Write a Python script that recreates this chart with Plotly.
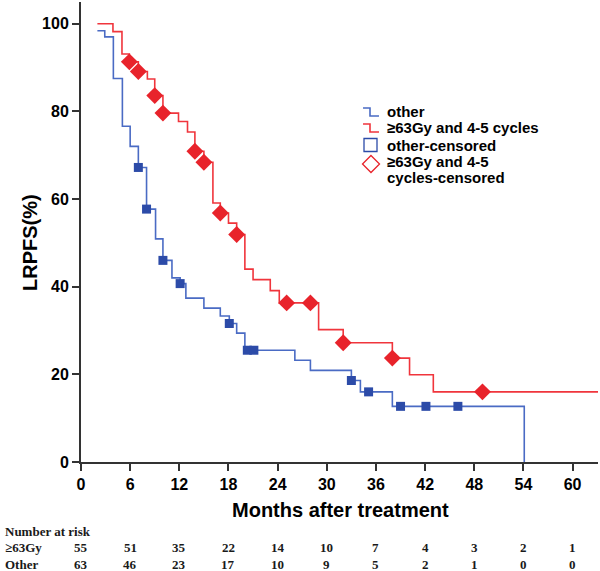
import plotly.graph_objects as go

# ---------------- data ----------------
red_name = "≥63Gy and 4-5 cycles"
blue_name = "other"

red_t = [2.0, 3.9, 5.0, 5.9, 7.0, 8.1, 9.0, 10.0, 11.9, 13.0, 13.9, 15.0, 16.1, 17.0,
         18.0, 19.0, 20.0, 21.0, 23.1, 24.2, 29.0, 32.0, 38.0, 40.1, 43.0, 63.1]
red_s = [100, 98.2, 93.1, 91.3, 89.1, 87.4, 83.6, 79.6, 77.7, 75.3, 70.9, 68.4, 59.1, 56.8,
         54.5, 51.9, 44.0, 41.6, 39.1, 36.3, 30.2, 27.2, 23.7, 19.9, 16.0, 16.0]
red_cens_t = [5.9, 7.0, 9.0, 10.0, 13.9, 15.0, 17.0, 19.0, 25.1, 28.0, 32.0, 38.0, 49.0]
red_cens_s = [91.3, 89.1, 83.6, 79.6, 70.9, 68.4, 56.8, 51.9, 36.3, 36.3, 27.2, 23.7, 16.0]

blue_t = [2.0, 2.9, 3.95, 5.05, 6.0, 7.0, 8.0, 9.1, 10.0, 11.1, 12.1, 12.8, 15.0, 17.0,
          18.1, 19.0, 20.0, 26.1, 28.0, 33.0, 34.1, 38.0, 54.1]
blue_s = [98.4, 97.0, 87.5, 76.6, 72.0, 67.2, 57.7, 50.9, 46.0, 42.0, 40.7, 37.4, 35.1, 33.3,
          31.6, 29.4, 25.5, 23.2, 20.9, 18.6, 16.0, 12.7, 0]
blue_cens_t = [7.0, 8.0, 10.0, 12.1, 18.1, 20.3, 21.1, 33.0, 35.1, 39.0, 42.1, 46.0]
blue_cens_s = [67.2, 57.7, 46.0, 40.7, 31.6, 25.5, 25.5, 18.6, 16.0, 12.7, 12.7, 12.7]

x_ticks = [0, 6, 12, 18, 24, 30, 36, 42, 48, 54, 60]
y_ticks = [0, 20, 40, 60, 80, 100]

risk_times = [0, 6, 12, 18, 24, 30, 36, 42, 48, 54, 60]
risk_hi = [55, 51, 35, 22, 14, 10, 7, 4, 3, 2, 1]
risk_other = [63, 46, 23, 17, 10, 9, 5, 2, 1, 0, 0]
risk_labels = ["≥63Gy", "Other"]

# ---------------- styling ----------------
RED_LINE = "#F0353C"
RED_MARK = "#E8232B"
BLUE_LINE = "#4A6BC4"
BLUE_MARK = "#2C4BA8"
AXIS = "#333333"

W, H = 600, 571
ML, MR, MT, MB = 81, 2, 2, 109
PW, PH = W - ML - MR, H - MT - MB


def px(xp):
    return (xp - ML) / PW


def py(yp):
    return (MT + PH - yp) / PH


fig = go.Figure()
fig.add_trace(go.Scatter(x=blue_t, y=blue_s, mode="lines", line=dict(color=BLUE_LINE, width=1.6, shape="hv"),
                         showlegend=False, hoverinfo="skip"))
fig.add_trace(go.Scatter(x=red_t, y=red_s, mode="lines", line=dict(color=RED_LINE, width=1.6, shape="hv"),
                         showlegend=False, hoverinfo="skip"))
fig.add_trace(go.Scatter(x=blue_cens_t, y=blue_cens_s, mode="markers",
                         marker=dict(symbol="square", size=9, color=BLUE_MARK, line=dict(width=0)),
                         showlegend=False, hoverinfo="skip"))
fig.add_trace(go.Scatter(x=red_cens_t, y=red_cens_s, mode="markers",
                         marker=dict(symbol="diamond", size=13, color=RED_MARK, line=dict(width=0)),
                         showlegend=False, hoverinfo="skip"))

tickfont = dict(family="Liberation Sans, Arial", size=16, color="black", weight="bold")
fig.update_xaxes(range=[0, 63.1], tickvals=x_ticks, showline=True, linecolor=AXIS, linewidth=2,
                 ticks="outside", ticklen=7, tickwidth=2, tickcolor=AXIS, tickfont=tickfont,
                 showgrid=False, zeroline=False, automargin=False)
fig.update_yaxes(range=[0, PH / 4.383], tickvals=y_ticks, showline=True, linecolor=AXIS, linewidth=2,
                 ticks="outside", ticklen=7, tickwidth=2, tickcolor=AXIS, tickfont=tickfont,
                 showgrid=False, zeroline=False, automargin=False)

ann = []
title_font = dict(family="Liberation Sans, Arial", size=20, color="black", weight="bold")
ann.append(dict(text="Months after treatment", x=px(340), y=py(510), xref="paper", yref="paper",
                showarrow=False, font=title_font, xanchor="center", yanchor="middle"))
ann.append(dict(text="LRPFS(%)", x=px(30), y=py(243), xref="paper", yref="paper", textangle=-90,
                showarrow=False, font=title_font, xanchor="center", yanchor="middle"))

# legend (drawn manually)
leg_font = dict(family="Liberation Sans, Arial", size=15, color="black", weight="bold")
leg_rows = [(blue_name, 112), (red_name, 128), ("other-censored", 145),
            ("≥63Gy and 4-5", 161), ("cycles-censored", 177)]
for txt, yy in leg_rows:
    ann.append(dict(text=txt, x=px(386), y=py(yy), xref="paper", yref="paper", showarrow=False,
                    font=leg_font, xanchor="left", yanchor="middle", align="left", borderpad=0))

shapes = []
for col, yy in [(BLUE_LINE, 112), (RED_LINE, 128)]:
    path = "M {:.4f},{:.4f} L {:.4f},{:.4f} L {:.4f},{:.4f} L {:.4f},{:.4f}".format(
        px(363), py(yy - 4), px(370), py(yy - 4), px(370), py(yy + 4), px(379), py(yy + 4))
    shapes.append(dict(type="path", path=path, xref="paper", yref="paper",
                       line=dict(color=col, width=1.6)))
# hollow square
shapes.append(dict(type="rect", xref="paper", yref="paper", x0=px(364), x1=px(377),
                   y0=py(151.5), y1=py(138.5), line=dict(color=BLUE_MARK, width=1.3)))
# hollow diamond
cx, cy, r = 371, 164, 8.5
path = "M {:.4f},{:.4f} L {:.4f},{:.4f} L {:.4f},{:.4f} L {:.4f},{:.4f} Z".format(
    px(cx), py(cy - r), px(cx + r), py(cy), px(cx), py(cy + r), px(cx - r), py(cy))
shapes.append(dict(type="path", path=path, xref="paper", yref="paper",
                   line=dict(color=RED_MARK, width=1.3)))

# number at risk table
risk_font = dict(family="Liberation Serif, Times New Roman", size=13, color="#1a1a1a", weight="bold")
ann.append(dict(text="Number at risk", x=px(3), y=py(531.5), xref="paper", yref="paper",
                showarrow=False, font=risk_font, xanchor="left", yanchor="middle"))
for lab, yy, vals in [(risk_labels[0], 547.5, risk_hi), (risk_labels[1], 564.5, risk_other)]:
    ann.append(dict(text=lab, x=px(3), y=py(yy), xref="paper", yref="paper",
                    showarrow=False, font=risk_font, xanchor="left", yanchor="middle"))
    for t, v in zip(risk_times, vals):
        ann.append(dict(text=str(v), x=t, y=py(yy), xref="x", yref="paper",
                        showarrow=False, font=risk_font, xanchor="center", yanchor="middle"))

fig.update_layout(width=W, height=H, margin=dict(l=ML, r=MR, t=MT, b=MB),
                  paper_bgcolor="white", plot_bgcolor="white",
                  annotations=ann, shapes=shapes, showlegend=False)

fig.write_html("out.html", config={"displayModeBar": False},
               post_script="document.body.style.margin='0';document.body.style.overflow='hidden';")
